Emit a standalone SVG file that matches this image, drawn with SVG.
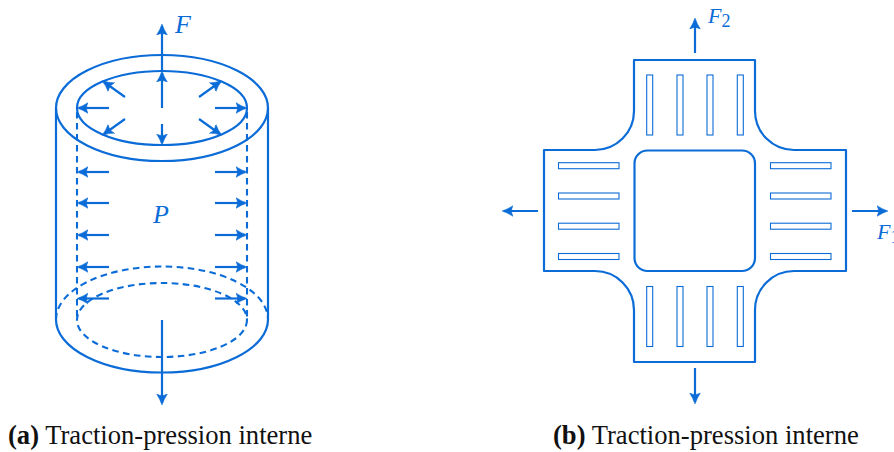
<svg xmlns="http://www.w3.org/2000/svg" width="894" height="452" viewBox="0 0 894 452">
<defs>
<marker id="ah" markerUnits="userSpaceOnUse" markerWidth="14" markerHeight="14" refX="9" refY="6" viewBox="0 0 14 12" orient="auto">
<path d="M-0.500,0.300 Q5,4 11,6 Q5,8 -0.500,11.700 Q3.600,6 -0.500,0.300 Z" fill="#0b6cd8" stroke="#0b6cd8" stroke-width="0.500"/>
</marker>
</defs>
<style>
.l{fill:none;stroke:#0b6cd8;stroke-width:2.2}
.d{fill:none;stroke:#0b6cd8;stroke-width:2.1;stroke-dasharray:6.6 4.4}
.a{fill:none;stroke:#0b6cd8;stroke-width:2.2;marker-end:url(#ah)}
.s{fill:#fff;stroke:#0b6cd8;stroke-width:1.1}
.m{font-family:"Liberation Serif",serif;font-style:italic;font-size:26px;fill:#0b6cd8}
.c{font-family:"Liberation Serif",serif;font-size:26.600px;fill:#111}
</style>
<g id="tube">
<ellipse class="l" cx="162" cy="108" rx="106" ry="53"/>
<ellipse class="l" cx="162" cy="108" rx="85" ry="37"/>
<path class="l" d="M56,108 V319.500 A106,53 0 0 0 268,319.500 V108"/>
<path class="d" d="M77,112 V320 M247,112 V320"/>
<path class="d" d="M56,319.500 A106,53 0 0 1 268,319.500"/>
<ellipse class="d" cx="162" cy="320" rx="85" ry="37"/>
</g>
<g id="connectors">
<path class="a" d="M162,71 V26"/>
<path class="a" d="M162,320 V403"/>
<path class="a" d="M162,108 V73"/>
<path class="a" d="M162,124 V143"/>
<path class="a" d="M125,97 L104,82"/>
<path class="a" d="M199,97 L220,82"/>
<path class="a" d="M125,119 L104,134"/>
<path class="a" d="M199,119 L220,134"/>
<path class="a" d="M109,108 H79"/><path class="a" d="M215,108 H245"/>
<path class="a" d="M109,172 H79"/><path class="a" d="M215,172 H245"/>
<path class="a" d="M109,203 H79"/><path class="a" d="M215,203 H245"/>
<path class="a" d="M109,235 H79"/><path class="a" d="M215,235 H245"/>
<path class="a" d="M109,267 H79"/><path class="a" d="M215,267 H245"/>
<path class="a" d="M109,298.500 H79"/><path class="a" d="M215,298.500 H245"/>
<path class="a" d="M695,53 V20"/>
<path class="a" d="M695,368 V402"/>
<path class="a" d="M538,211 H504"/>
<path class="a" d="M852,211 H886"/>
</g>
<g id="plate">
<path class="l" stroke-linejoin="round" d="M634,60 H755 V111 A39,39 0 0 0 794,150 H846 V271 H794 A39,39 0 0 0 755,310 V362 H634 V310 A39,39 0 0 0 595,271 H544 V150 H595 A39,39 0 0 0 634,111 Z"/>
<rect class="l" x="634.500" y="150.500" width="120.500" height="120.500" rx="13"/>
</g>
<g id="slots">
<rect class="s" x="646.700" y="75" width="6" height="60"/><rect class="s" x="677" y="75" width="6" height="60"/><rect class="s" x="707" y="75" width="6" height="60"/><rect class="s" x="737.300" y="75" width="6" height="60"/>
<rect class="s" x="646.700" y="286.500" width="6" height="60"/><rect class="s" x="677" y="286.500" width="6" height="60"/><rect class="s" x="707" y="286.500" width="6" height="60"/><rect class="s" x="737.300" y="286.500" width="6" height="60"/>
<rect class="s" x="558.500" y="162.700" width="60.500" height="6"/><rect class="s" x="558.500" y="193" width="60.500" height="6"/><rect class="s" x="558.500" y="223.200" width="60.500" height="6"/><rect class="s" x="558.500" y="253.500" width="60.500" height="6"/>
<rect class="s" x="770.500" y="162.700" width="60.500" height="6"/><rect class="s" x="770.500" y="193" width="60.500" height="6"/><rect class="s" x="770.500" y="223.200" width="60.500" height="6"/><rect class="s" x="770.500" y="253.500" width="60.500" height="6"/>
</g>
<g id="labels">
<text class="m" x="175" y="33">F</text>
<text class="m" x="153" y="223">P</text>
<text class="m" x="708" y="23" style="font-size:22px">F<tspan style="font-style:normal;font-size:18px" dy="4">2</tspan></text>
<text class="m" x="877" y="239" style="font-size:22px">F<tspan style="font-style:normal;font-size:18px" dy="4">1</tspan></text>
<text class="c" x="8" y="444"><tspan font-weight="bold">(a)</tspan> Traction-pression interne</text>
<text class="c" x="553" y="444"><tspan font-weight="bold">(b)</tspan> Traction-pression interne</text>
</g>
</svg>
